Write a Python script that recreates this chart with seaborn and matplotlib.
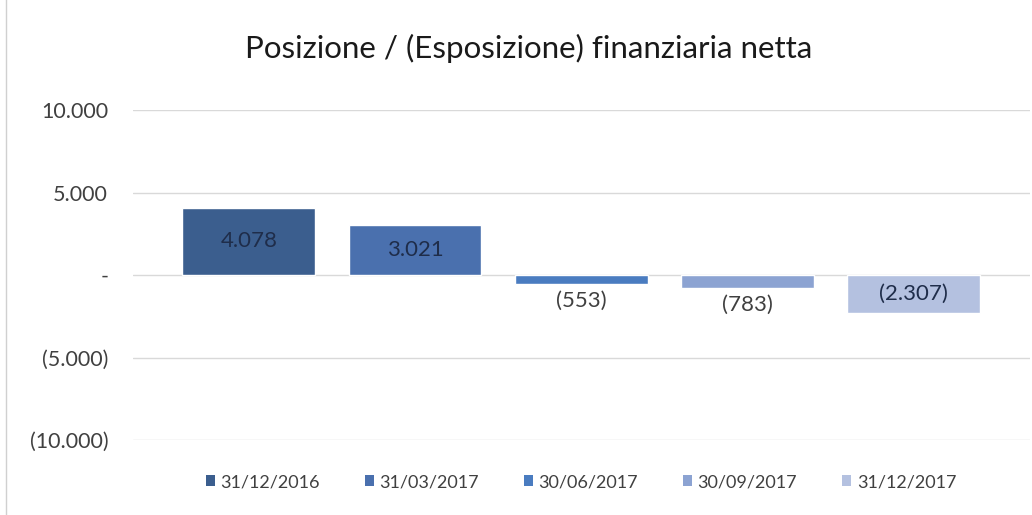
import matplotlib
matplotlib.use("Agg")
import matplotlib.pyplot as plt
import seaborn as sns
from matplotlib.patches import Patch, Rectangle
from matplotlib.ticker import FuncFormatter

sns.set_theme(style="white")
plt.rcParams['font.family'] = ['Lato', 'DejaVu Sans']

# data
dates = ["31/12/2016", "31/03/2017", "30/06/2017", "30/09/2017", "31/12/2017"]
values = [4078, 3021, -553, -783, -2307]
labels = ["4.078", "3.021", "(553)", "(783)", "(2.307)"]
colors = ["#3B5E8E", "#4A70AE", "#4A7CC0", "#8CA3D2", "#B4C1E0"]
title = "Posizione / (Esposizione) finanziaria netta"


def it_fmt(v, pos=None):
    if v == 0:
        return "-"
    s = f"{abs(v):,.0f}".replace(",", ".")
    return f"({s})" if v < 0 else s


fig = plt.figure(figsize=(10.32, 5.15), dpi=100)
ax = fig.add_axes([0.129, 0.1456, 0.869, 0.6408])

sns.barplot(x=dates, y=values, hue=dates, palette=colors, width=0.8,
            dodge=False, legend=False, ax=ax, saturation=1, zorder=3)

ax.set_xlim(-0.696, 4.70)
ax.set_ylim(-10000, 10000)
ax.set_yticks([-10000, -5000, 0, 5000, 10000])
ax.yaxis.set_major_formatter(FuncFormatter(it_fmt))
ax.tick_params(axis='y', labelsize=15.5, colors="#404040", pad=18, length=0)
ax.set_xticks([])
ax.grid(axis='y', color="#D9D9D9", linewidth=1, zorder=0)
for sp in ax.spines.values():
    sp.set_visible(False)

# data labels: centred in bar where it fits, below the bar for the thin ones
for i, (v, lab) in enumerate(zip(values, labels)):
    if abs(v) > 1000:
        ax.text(i, v / 2, lab, ha='center', va='center', fontsize=16,
                color="#1F2D4A", zorder=4)
    else:
        ax.text(i, v - 400, lab, ha='center', va='top', fontsize=16,
                color="#404040", zorder=4)

fig.text(0.512, 0.905, title, ha='center', va='center', fontsize=22.5,
         color="#1A1A1A")

handles = [Patch(facecolor=c, edgecolor='none', label=d) for c, d in zip(colors, dates)]
fig.legend(handles=handles, loc='center', bbox_to_anchor=(0.563, 0.064),
           ncol=5, frameon=False, fontsize=13, handlelength=0.5,
           handleheight=0.5, handletextpad=0.3, columnspacing=2.5,
           labelcolor="#404040")

# chart frame
fig.patches.append(Rectangle((0.006, -0.01), 1.2, 1.2, transform=fig.transFigure,
                             fill=False, edgecolor="#D0D0D0", linewidth=1))

fig.savefig("out.png", dpi=100)
